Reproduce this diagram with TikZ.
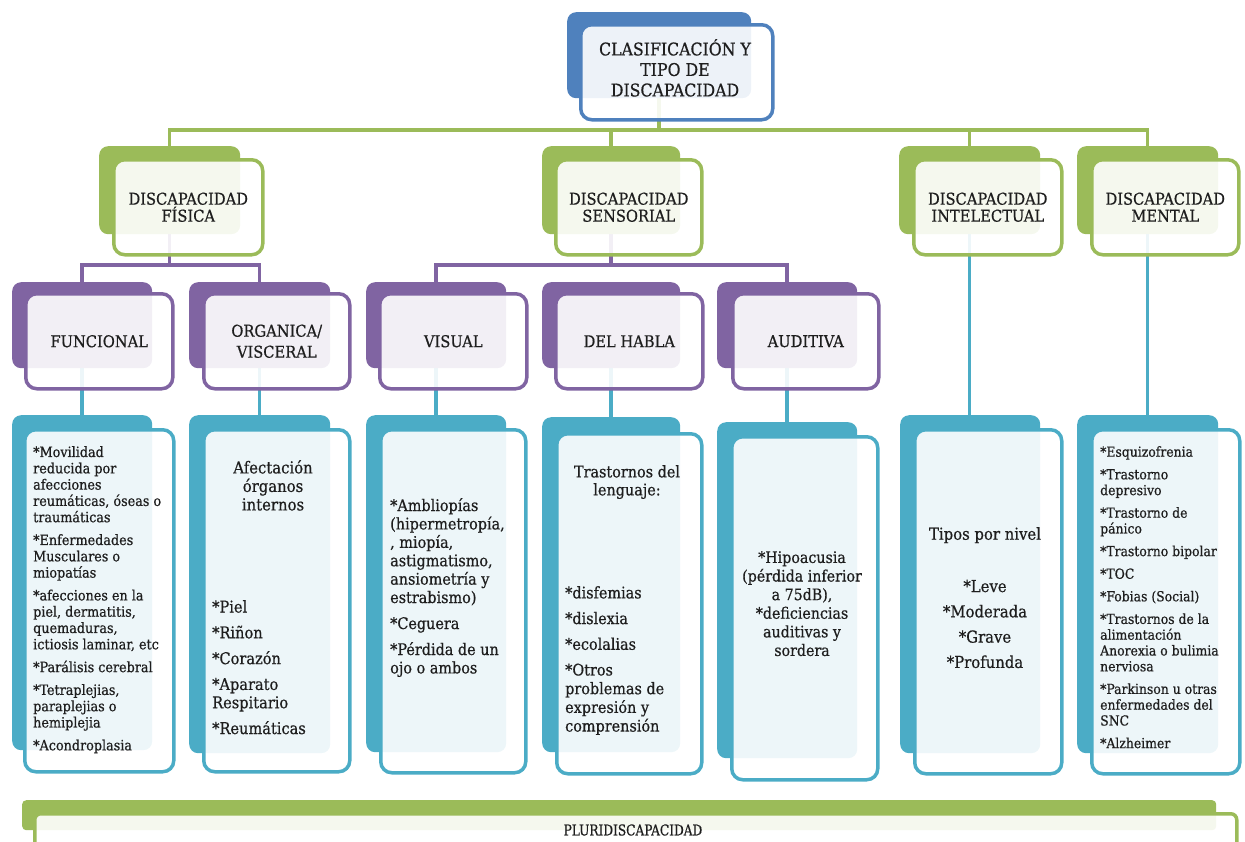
\documentclass[tikz,border=0pt]{standalone}
\usepackage{fontspec}
\setmainfont{DejaVu Serif Condensed}[FakeBold=0.6]
\definecolor{cblue}{HTML}{4F81BD}
\definecolor{cgreen}{HTML}{9BBB59}
\definecolor{cpurple}{HTML}{8064A2}
\definecolor{ccyan}{HTML}{4BACC6}
\definecolor{ctext}{HTML}{1E1E1E}
\pgfdeclarelayer{bg}
\pgfsetlayers{bg,main}
\tikzset{
  bk/.style={fill=#1, draw=none, rounded corners=9pt, inner sep=0pt},
  fr/.style={draw=#1, fill=white, fill opacity=0.9, text opacity=1, line width=3.5pt,
    rounded corners=11pt, inner sep=0pt, align=center, text=ctext},
  lone/.style={font=\fontsize{16.3}{17}\selectfont},
  ltwo/.style={font=\fontsize{16.3}{21}\selectfont},
  lt/.style={inner sep=0pt, align=left, text=ctext, anchor=north west},
  ct/.style={inner sep=0pt, align=center, text=ctext, anchor=north},
  conn/.style={draw=#1, line width=3.5pt},
}
\newcommand\bx[6]{\node[#2,anchor=north west,minimum width={#5-#3},minimum height={#6-#4}] (#1) at (#3,#4) {};}
\newcommand\fx[7]{\node[#2,anchor=north west,minimum width={#5-#3},minimum height={#6-#4}] (#1) at (#3,#4) {#7};}
\begin{document}
\begin{tikzpicture}[x=1pt,y=-1pt]
\path[use as bounding box] (0,0) rectangle (1245,841);
\clip (0,0) rectangle (1245,841);
\coordinate (bus1) at (0,130);
\coordinate (bus2) at (0,265);
% top
\bx{topB}{bk=cblue}{567}{12}{751}{98}
\fx{top}{fr=cblue}{579}{23}{771}{118}{}
\node[ct, font=\fontsize{17.5}{20.5}\selectfont] (topT) at (675,39) {CLASIFICACIÓN Y\\TIPO DE\\DISCAPACIDAD};
% level 1
\bx{fisB}{bk=cgreen}{99}{146}{240}{234}
\fx{fis}{fr=cgreen,lone}{112}{158}{261}{253}{DISCAPACIDAD\\FÍSICA}
\bx{senB}{bk=cgreen}{542}{146}{680}{234}
\fx{sen}{fr=cgreen,lone}{554}{158}{700}{253}{DISCAPACIDAD\\SENSORIAL}
\bx{intB}{bk=cgreen}{899}{146}{1040}{234}
\fx{int}{fr=cgreen,lone}{912}{158}{1060}{253}{DISCAPACIDAD\\INTELECTUAL}
\bx{menB}{bk=cgreen}{1077}{146}{1218}{234}
\fx{men}{fr=cgreen,lone}{1090}{158}{1237}{253}{DISCAPACIDAD\\MENTAL}
% level 2
\bx{funB}{bk=cpurple}{12}{282}{152}{368}
\fx{fun}{fr=cpurple,ltwo}{24}{292}{171}{387}{FUNCIONAL}
\bx{orgB}{bk=cpurple}{189}{282}{330}{368}
\fx{org}{fr=cpurple,ltwo}{202}{292}{348}{387}{ORGANICA/\\VISCERAL}
\bx{visB}{bk=cpurple}{366}{282}{506}{368}
\fx{vis}{fr=cpurple,ltwo}{378}{292}{525}{387}{VISUAL}
\bx{habB}{bk=cpurple}{542}{282}{680}{368}
\fx{hab}{fr=cpurple,ltwo}{554}{292}{701}{387}{DEL HABLA}
\bx{audB}{bk=cpurple}{717}{282}{857}{368}
\fx{aud}{fr=cpurple,ltwo}{731}{292}{877}{387}{AUDITIVA}
% level 3
\bx{funLB}{bk=ccyan}{12}{415}{152}{750}
\fx{funL}{fr=ccyan}{23}{428}{172}{770}{}
\bx{orgLB}{bk=ccyan}{189}{415}{330}{753}
\fx{orgL}{fr=ccyan}{202}{428}{348}{770}{}
\bx{visLB}{bk=ccyan}{366}{415}{506}{752}
\fx{visL}{fr=ccyan}{379}{428}{524}{771}{}
\bx{habLB}{bk=ccyan}{542}{417}{680}{752}
\fx{habL}{fr=ccyan}{555}{432}{700}{772}{}
\bx{audLB}{bk=ccyan}{717}{422}{857}{758}
\fx{audL}{fr=ccyan}{730}{435}{876}{778}{}
\bx{intLB}{bk=ccyan}{900}{415}{1040}{753}
\fx{intL}{fr=ccyan}{913}{428}{1060}{772}{}
\bx{menLB}{bk=ccyan}{1077}{415}{1218}{753}
\fx{menL}{fr=ccyan}{1090}{428}{1238}{772}{}
% bottom
\node[fill=cgreen, rounded corners=4pt, inner sep=0pt, anchor=north west, minimum width=1194, minimum height=30] (pluB) at (22,800) {};
\node[draw=cgreen, fill=white, fill opacity=0.9, line width=3.5pt, rounded corners=6pt, inner sep=0pt, anchor=north west, minimum width=1202, minimum height=60] (plu) at (33,812) {};
\node[text=ctext, font=\fontsize{15}{16}\selectfont, inner sep=0pt] (pluT) at (633,830) {\scalebox{0.9}[1]{PLURIDISCAPACIDAD}};
% leaf texts
\node[lt, font=\fontsize{14.2}{16.3}\selectfont] (funT) at (33,446) {*Movilidad\\reducida por\\afecciones\\reumáticas, óseas o\\traumáticas\\[6.5pt]*Enfermedades\\Musculares o\\miopatías\\[6.5pt]*afecciones en la\\piel, dermatitis,\\quemaduras,\\ictiosis laminar, etc\\[6.5pt]*Parálisis cerebral\\[6.5pt]*Tetraplejias,\\paraplejias o\\hemiplejia\\[6.5pt]*Acondroplasia};
\node[ct, font=\fontsize{16.5}{18.5}\selectfont] (orgT) at (273,460) {Afectación\\órganos\\internos};
\node[lt, font=\fontsize{16.2}{18.3}\selectfont] (orgT2) at (212,600) {*Piel\\[7.5pt]*Riñon\\[7.5pt]*Corazón\\[7.5pt]*Aparato\\Respitario\\[7.5pt]*Reumáticas};
\node[lt, font=\fontsize{16}{18.4}\selectfont] (visT) at (390,498) {*Ambliopías\\(hipermetropía,\\, miopía,\\astigmatismo,\\ansiometría y\\estrabismo)\\[7.6pt]*Ceguera\\[7.6pt]*Pérdida de un\\ojo o ambos};
\node[ct, font=\fontsize{16}{18}\selectfont] (habT) at (627,465) {Trastornos del\\lenguaje:};
\node[lt, font=\fontsize{16}{18.7}\selectfont] (habT2) at (565,586) {*disfemias\\[7pt]*dislexia\\[7pt]*ecolalias\\[7pt]*Otros\\problemas de\\expresión y\\comprensión};
\node[ct, font=\fontsize{15.8}{18.6}\selectfont] (audT) at (802,551) {*Hipoacusia\\(pérdida inferior\\a 75dB),\\*deficiencias\\auditivas y\\sordera};
\node[ct, font=\fontsize{16.5}{19.3}\selectfont] (intT) at (985,527) {Tipos por nivel\\[33pt]*Leve\\[6pt]*Moderada\\[6pt]*Grave\\[6pt]*Profunda};
\node[lt, font=\fontsize{13.8}{15.8}\selectfont] (menT) at (1100,446) {*Esquizofrenia\\[6.8pt]*Trastorno\\depresivo\\[6.8pt]*Trastorno de\\pánico\\[6.8pt]*Trastorno bipolar\\[6.8pt]*TOC\\[6.8pt]*Fobias (Social)\\[6.8pt]*Trastornos de la\\alimentación\\Anorexia o bulimia\\nerviosa\\[6.8pt]*Parkinson u otras\\enfermedades del\\SNC\\[6.8pt]*Alzheimer};
% connectors
\begin{pgfonlayer}{bg}
\draw[conn=cgreen] (topB.center) -- (topB.center |- bus1);
\draw[conn=cgreen] (fisB.center) |- (menB.center |- bus1) -- (menB.center);
\draw[conn=cgreen] (senB.center) -- (senB.center |- bus1);
\draw[conn=cgreen] (intB.center) -- (intB.center |- bus1);
\draw[conn=cpurple] (fisB.center) -- (fisB.center |- bus2);
\draw[conn=cpurple] (funB.center) |- (orgB.center |- bus2) -- (orgB.center);
\draw[conn=cpurple] (senB.center) -- (senB.center |- bus2);
\draw[conn=cpurple] (visB.center) |- (audB.center |- bus2) -- (audB.center);
\draw[conn=ccyan] (funB.center) -- (funB.center |- funLB.center);
\draw[conn=ccyan] (orgB.center) -- (orgB.center |- orgLB.center);
\draw[conn=ccyan] (visB.center) -- (visB.center |- visLB.center);
\draw[conn=ccyan] (habB.center) -- (habB.center |- habLB.center);
\draw[conn=ccyan] (audB.center) -- (audB.center |- audLB.center);
\draw[conn=ccyan] (intB.center) -- (intB.center |- intLB.center);
\draw[conn=ccyan] (menB.center) -- (menB.center |- menLB.center);
\end{pgfonlayer}
\end{tikzpicture}
\end{document}
